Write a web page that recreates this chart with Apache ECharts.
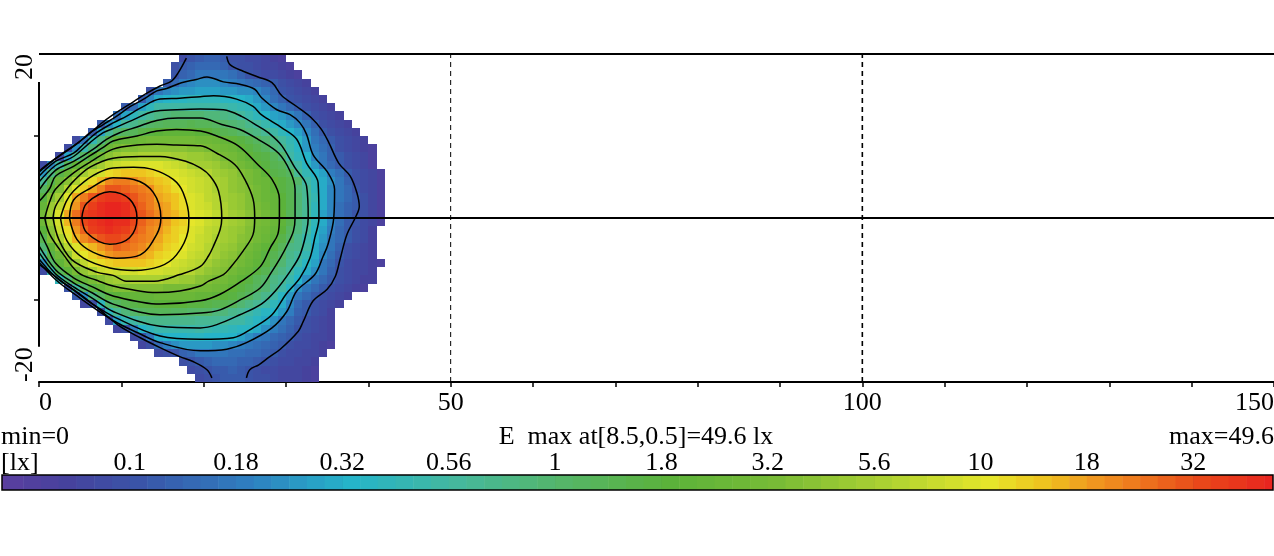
<!DOCTYPE html>
<html><head><meta charset="utf-8">
<style>html,body{margin:0;padding:0;background:#fff}#c{width:1274px;height:556px}</style>
<script src="https://cdn.jsdelivr.net/npm/echarts@6/dist/echarts.min.js"></script>
</head><body><div id="c"></div>
<script>
// Each row is the colour-shade read from one 1x1 cell. Six shades separate two legend ticks; shade 0 = 0.1 lx.
const row19=[-2,0,1,2,2,1,-1,-1,-2,-2,-3,-4,-5];
const row18=[-1,1,2,3,3,3,2,0,-1,-1,-2,-3,-3,-4,-5];
const row17=[0,2,3,5,5,5,5,4,2,0,-1,-2,-2,-3,-4,-5];
const row16=[1,3,6,7,8,8,8,7,6,5,4,3,2,1,-1,-2,-3,-4];
const row15=[-1,5,7,8,9,9,10,10,10,9,9,8,8,7,5,3,0,-1,-2,-3,-4];
const row14=[1,7,11,12,13,13,14,14,14,14,13,13,12,11,9,7,4,2,0,-1,-2,-3,-4];
const row13=[1,4,10,14,17,17,17,17,17,17,17,17,17,16,15,14,11,9,7,5,3,1,-1,-2,-3,-4];
const row12=[4,10,14,17,19,21,22,23,23,23,23,22,22,21,20,18,16,14,12,10,9,7,5,2,-1,-2,-3,-4];
const row11=[1,8,13,18,20,22,24,25,26,26,26,27,26,26,25,24,23,22,20,18,16,13,11,9,7,5,2,-1,-2,-3,-4];
const row10=[1,10,19,23,25,26,28,29,30,31,31,31,31,30,30,28,27,26,24,22,21,19,17,14,12,10,7,4,1,-1,-2,-3,-4];
const row9=[-2,5,15,21,27,31,32,33,34,35,35,35,35,35,35,34,34,33,32,31,29,27,25,23,21,18,15,13,9,5,3,1,-1,-2,-3,-4];
const row8=[-2,8,16,22,27,33,36,37,37,38,38,38,38,38,38,37,37,36,35,34,33,31,29,27,25,22,20,16,13,9,6,4,2,-1,-2,-3,-4,-5];
const row7=[-2,10,19,25,30,35,38,40,41,41,42,42,42,42,41,41,40,40,39,38,36,35,33,31,29,28,26,23,17,14,12,7,5,2,1,-1,-2,-3,-5];
const row6=[-2,7,17,26,31,35,38,41,44,45,46,47,47,47,47,46,45,44,42,41,41,40,38,37,35,33,31,29,27,26,21,17,13,9,5,3,1,-1,-2,-3,-5];
const row5=[9,21,28,33,37,41,44,46,49,50,51,51,51,50,49,47,47,46,45,44,43,41,40,39,37,36,34,31,28,27,25,19,15,12,10,6,4,1,-1,-2,-3,-5];
const row4=[19,27,34,38,42,46,49,52,55,56,56,55,53,52,51,50,48,47,46,45,44,42,41,39,38,36,34,33,31,29,27,24,17,14,11,8,5,2,-1,-2,-3,-5];
const row3=[25,31,37,43,47,50,53,56,59,59,58,57,56,55,52,51,49,48,46,45,44,42,41,39,38,37,35,33,31,29,27,22,19,14,11,7,5,3,0,-2,-3,-5];
const row2=[29,37,41,47,53,56,59,61,62,62,61,59,57,56,53,52,51,49,47,46,44,43,41,40,39,37,35,33,32,30,27,23,19,15,11,7,5,3,1,-1,-3,-5];
const row1=[32,40,44,49,54,59,61,63,64,64,63,60,58,56,54,53,51,49,47,46,45,43,42,40,39,37,36,34,32,30,27,23,19,14,11,7,4,2,1,-1,-3,-5];
const row0=[35,41,47,53,57,61,62,63,64,64,63,61,59,57,55,53,52,50,48,47,46,44,43,41,40,38,37,35,33,31,26,22,19,14,10,7,4,2,0,-1,-3,-5];
const rowM1=[34,40,46,52,56,60,62,63,64,63,63,60,58,56,55,53,51,50,48,47,45,44,42,41,40,38,36,35,33,31,27,22,19,14,11,7,4,1,0,-2,-3,-5];
const rowM2=[30,38,45,49,54,58,61,62,63,62,61,59,57,55,54,52,50,49,47,46,44,43,41,40,39,37,35,34,32,30,25,22,18,13,10,6,3,1,-1,-2,-4];
const rowM3=[27,37,42,47,52,55,57,59,60,60,59,57,56,55,53,51,50,48,47,45,44,42,41,40,38,37,35,33,31,28,24,20,16,12,9,5,3,1,-1,-2,-4];
const rowM4=[23,31,38,43,47,50,52,54,56,58,57,56,55,53,52,50,49,48,46,45,43,41,40,39,37,35,33,31,29,26,21,20,17,11,8,5,2,-1,-2,-3,-4];
const rowM5=[18,28,34,39,45,48,50,52,54,55,55,55,53,52,50,49,48,47,45,44,43,41,39,38,36,34,32,29,27,24,20,18,15,11,7,4,1,-1,-2,-3,-4];
const rowM6=[8,24,31,36,40,44,47,49,50,51,51,51,51,50,49,48,46,45,44,43,41,39,38,37,35,33,31,29,26,23,19,17,13,10,5,3,0,-2,-3,-3,-4,-5];
const rowM7=[-2,15,26,31,36,39,42,45,46,45,46,46,47,46,46,45,45,44,43,41,39,38,37,35,33,32,29,27,23,21,18,14,11,8,5,2,-1,-2,-3,-3,-4];
const rowM8=[14,22,29,33,36,38,40,41,41,42,42,42,42,41,41,40,40,38,37,36,35,33,31,29,26,24,21,19,16,12,8,5,3,1,-1,-2,-3,-4,-4];
const rowM9=[0,17,24,29,32,35,37,37,37,37,37,37,36,36,36,36,35,35,34,33,31,29,27,25,23,20,17,13,8,5,3,1,-1,-2,-3,-4,-5];
const rowM10=[1,8,21,25,29,30,31,32,32,32,33,33,33,33,33,32,32,31,30,29,27,25,22,20,17,13,9,5,3,1,-1,-2,-3,-4];
const rowM11=[-3,-1,14,23,25,27,28,29,29,30,30,30,30,29,29,28,27,27,26,23,21,19,17,14,11,7,3,1,-1,-2,-3,-4];
const rowM12=[-1,14,19,22,24,25,26,26,26,25,25,24,24,24,22,22,20,19,17,15,13,12,9,6,2,1,-1,-2,-4];
const rowM13=[-2,10,15,17,19,20,20,20,20,20,20,19,19,19,18,17,17,15,13,11,8,5,3,1,-1,-2,-3,-4];
const rowM14=[-3,-1,6,12,14,16,16,16,16,16,17,16,15,15,14,13,13,11,8,6,4,2,0,-1,-2,-3,-4];
const rowM15=[-2,0,5,11,12,12,12,13,13,12,12,12,12,10,8,6,5,3,2,1,-1,-2,-3,-3,-4];
const rowM16=[-3,-1,3,6,8,9,9,9,9,8,8,7,6,5,4,3,2,1,-1,-2,-2,-3,-4,-5];
const rowM17=[-2,-1,0,2,3,5,5,5,5,4,4,3,3,2,1,-1,-2,-2,-3,-3,-4];
const rowM18=[-1,0,1,2,3,3,3,2,2,1,0,-1,-2,-2,-3,-3,-4];
const rowM19=[-2,-1,0,1,1,2,1,0,-1,-2,-2,-3,-3,-3,-4,-5];
const rowM20=[-2,-1,0,1,1,1,0,-1,-1,-2,-3,-3,-3,-4,-5];
const rows=[row19,row18,row17,row16,row15,row14,row13,row12,row11,row10,row9,row8,row7,row6,row5,row4,row3,row2,row1,row0,
  rowM1,rowM2,rowM3,rowM4,rowM5,rowM6,rowM7,rowM8,rowM9,rowM10,rowM11,rowM12,rowM13,rowM14,rowM15,rowM16,rowM17,rowM18,rowM19,rowM20];
const rowFirstColumn=[17,16,16,15,13,12,10,9,7,6,4,3,2,0,0,0,0,0,0,0,
  0,0,0,0,0,0,0,2,3,4,5,7,8,9,11,12,14,17,18,19];

// Iso-lux contours
const line01Left=[[0,5.7],[.7,6.3],[2.6,7.7],[4.2,8.8],[5.8,10],[7.4,11.4],[9,12.6],[11.5,14.2],[12.9,15.1],[14.7,16.1],[16.1,16.7],[16.9,17.7],[17.9,19.5]];
const line01Right=[[22.8,19.7],[23.2,18.7],[24.8,17.9],[26.6,17.2],[28.3,16.5],[29.5,14.9],[31.3,13.6],[33.1,12.2],[34.3,10.8],[35.2,9.2],[36.4,6.7],[37.8,5.1],[38.6,3.1],[38.9,1.4],[38.4,0],[37.4,-2],[36.6,-4.9],[36,-7.1],[35,-8.7],[33.3,-10.1],[32.1,-12.6],[31.5,-13.8],[29.3,-16],[27.9,-17],[26.7,-17.9],[25.6,-18.5],[25.2,-19.5]];
const line01Lower=[[21,-19.5],[20.4,-18.5],[18.7,-17.5],[17.1,-16.9],[14.7,-15.8],[12.3,-14.6],[9.8,-13.2],[7.4,-11.2],[5,-9.3],[3,-7.9],[.9,-6.3],[0,-5.7]];
const line018=[[0,5.6],[1.3,6.7],[3,7.9],[4.8,9.2],[6.2,10.4],[7.8,11.4],[9.4,12.4],[11.1,13.6],[12.7,14.5],[14.3,15.5],[15.5,15.8],[17.3,16.5],[19.1,16.9],[20.4,17.2],[22.4,16.6],[24.4,16.3],[26.2,15.7],[27,14.7],[28.9,13.2],[30.5,12.6],[31.7,11.6],[32.5,10.2],[33.3,7.7],[35.1,5.5],[35.9,3.5],[35.8,0],[35.1,-3.2],[34.5,-4.7],[33.5,-6.9],[31.3,-8.9],[30.1,-11.4],[28.3,-13.4],[25.2,-15.2],[22.8,-16],[19.6,-16.2],[14.7,-15.2],[12,-14],[9,-12.5],[4.2,-9.2],[2,-7.5],[0,-5.4]];
const line032=[[0,5.1],[2,6.9],[4.2,7.9],[5.4,9],[7,10.4],[9,11.6],[10.6,12.4],[12.3,13.4],[14.7,14.5],[17.1,14.6],[19.6,14.8],[21.2,14.9],[24,14.5],[26,13.6],[27,12.6],[29.5,11],[31.3,9.6],[32.5,6.7],[33.9,4.3],[34,0],[33.5,-2.4],[32.9,-4.9],[31.7,-7.3],[30,-9.3],[28.3,-11.8],[26,-13.4],[23.6,-14.6],[19.6,-14.8],[14.7,-14.4],[9,-12],[6.5,-10.5],[4.2,-8.8],[2,-7.2],[0,-5]];
const line056=[[0,4.4],[2,6.4],[4.2,7.5],[6.2,9.2],[7.8,10.4],[9,10.9],[11.5,12],[13.9,13],[16.7,13.2],[19.6,13.3],[22.4,13.2],[24.6,12.4],[26.6,11.2],[28.1,10.2],[29.5,8.8],[31.1,6.1],[32.5,3.9],[32.7,0],[32.5,-1.6],[31.7,-4.5],[30.5,-6.5],[28.7,-8.9],[27,-10.5],[24.4,-11.8],[21.6,-13],[19.6,-13.4],[14.7,-13.2],[9,-11.4],[6.5,-9.8],[4.2,-8.4],[2,-6.8],[0,-4.2]];
const line1=[[0,3.4],[2,5.8],[4.2,6.9],[6.6,8.4],[8.2,9.6],[9.8,10.4],[11.9,11.1],[14.3,11.9],[16.9,12.2],[19.6,12.2],[22.2,11.4],[24.4,10.8],[26.6,9.6],[29.1,7.9],[30.5,5.7],[31.1,3.5],[31.1,0],[30.9,-1.6],[30.2,-3.2],[29.3,-4.9],[28.3,-6.5],[26.9,-8.5],[24.6,-9.9],[22,-11.2],[19.6,-11.6],[14.7,-11.8],[9,-10.5],[6.5,-9.15],[4.2,-7.9],[2,-6.3],[0,-3.4]];
const line18=[[0,2],[1.3,3.6],[2,5.1],[4.2,6.3],[6.2,7.6],[7.8,8.6],[9,9.4],[11.9,10],[14.3,10.6],[16.7,10.8],[19.6,10.6],[21.6,10],[24.2,8.8],[26.6,6.5],[28.3,4.7],[29.2,2.3],[29.2,0],[29,-2],[28.1,-3.6],[26.9,-5.9],[24.6,-7.7],[22,-9.3],[19.6,-10.1],[14.7,-10.5],[9,-9.5],[6.5,-8.4],[4.2,-7.3],[2,-5.5],[1,-3.5],[0,-1.4]];
const line32=[[.7,0],[1.3,2],[2,3.5],[4.2,5.5],[6.5,7],[9,8.4],[11.9,8.9],[14.3,9],[16.7,8.9],[19.6,8.8],[21.6,7.9],[23.8,6.5],[25,4.7],[26,2.3],[26.2,0],[26,-2],[24.8,-4],[23.2,-6.1],[22.4,-6.9],[20.6,-7.7],[19.6,-8.3],[17.1,-8.9],[14.3,-9.1],[11,-8.7],[9,-8.3],[7,-7.6],[4.8,-6.7],[3,-4.5],[1.3,-2],[.7,0]];
const line56=[[1.7,0],[2,1.4],[3,3],[4.2,4.5],[6.2,6.2],[9,7.3],[12.3,7.5],[14.7,7.5],[17.9,6.9],[19.6,6.1],[20.8,5.1],[21.8,3.3],[22.2,0],[22,-1.4],[21.2,-3.4],[20.6,-4.6],[19.6,-5.9],[17.1,-6.9],[14,-7.7],[10.6,-7.7],[9,-7],[7,-6.6],[4,-5.1],[2.4,-2.6],[1.7,0]];
const line10=[[2.6,0],[3.3,2],[4.2,3.3],[6.6,5.2],[9,6.1],[11.5,6.2],[13.9,5.9],[16.3,4.7],[17.5,3.1],[18.2,0],[18.1,-1.6],[16.7,-4.5],[14.7,-5.9],[11.5,-6.4],[8.6,-6.1],[5.4,-4.9],[3.4,-2.8],[2.6,0]];
const line18b=[[3.7,0],[4.2,2.2],[6.2,3.6],[9,4.9],[11.5,4.7],[13.9,3.1],[14.8,0],[14.3,-2],[12.3,-4.5],[9.4,-4.9],[6.6,-4.2],[4.6,-2.6],[3.7,0]];
const line32b=[[5.2,0],[5.8,1.8],[8.6,3.2],[11,2.3],[11.9,0],[11,-2.4],[8.6,-3.2],[5.8,-1.8],[5.2,0]];
const contours=[line01Left,line01Right,line01Lower,line018,line032,line056,line1,line18,line32,line56,line10,line18b,line32b];

// Axis and legend text
const xTickLabels=[0,50,100,150];
const yTickLabels=[-20,20];
const yTicks=[-10,10];
const legendTickShades=[0,6,12,18,24,30,36,42,48,54,60];
const legendTickLabels=['0.1','0.18','0.32','0.56','1','1.8','3.2','5.6','10','18','32'];
const colorStops=[[-8,'#5c3e9f'],[-4,'#46429d'],[0,'#3a54a8'],[6,'#2f7dbf'],[12,'#25b4c9'],[18,'#45b89d'],[24,'#55b668'],[30,'#5bb23a'],[36,'#78bb36'],[42,'#abd132'],[48,'#e6e62a'],[51,'#eec41f'],[54,'#f0961f'],[60,'#e9471a'],[65,'#e81c20']];

// Frame lines
const centerLine=[[0,0],[150,0]];
const topLine=[[0,20],[150,20]];
const leftLine=[[0,-15.7],[0,16.6]];
const dashed50=[[50,-20],[50,20]];
const dashed100=[[100,-20],[100,20]];

function hex(c){return [1,3,5].map(i=>parseInt(c.substr(i,2),16));}
function shadeColor(s){
  for(let i=0;i<colorStops.length-1;i++){
    const a=colorStops[i],b=colorStops[i+1];
    if(s>=a[0]&&s<=b[0]){
      const t=(s-a[0])/(b[0]-a[0]),ca=hex(a[1]),cb=hex(b[1]);
      return 'rgb('+ca.map((v,k)=>Math.round(v+(cb[k]-v)*t)).join(',')+')';
    }
  }
  return colorStops[colorStops.length-1][1];
}

const cells=[];
rows.forEach((r,ri)=>r.forEach((s,ci)=>cells.push([rowFirstColumn[ri]+ci,19-ri,s])));
const shades=[];
for(let s=-8;s<=64;s++)shades.push([s]);

const FONT='Liberation Serif';
const FS=26;
const chart=echarts.init(document.getElementById('c'),null,{renderer:'canvas'});
function lineSeries(data,width,dashed,z,smooth){
  return {type:'line',data,showSymbol:false,symbol:'none',silent:true,clip:false,z:z||5,animation:false,smooth:smooth||false,
    lineStyle:{color:'#000',width,type:dashed?[5,4]:'solid'}};
}
chart.setOption({
  animation:false,backgroundColor:'#fff',
  title:[
    {text:'min=0',left:1,top:424},
    {text:'E  max at[8.5,0.5]=49.6 lx',left:636,textAlign:'center',top:424},
    {text:'max=49.6',right:0,top:424},
    {text:'[lx]',left:1,top:450}
  ].map(t=>Object.assign(t,{padding:0,textStyle:{fontFamily:FONT,fontSize:FS,fontWeight:'normal',color:'#000'}})),
  grid:[
    {left:39,top:54,width:1235,height:328,outerBoundsMode:'none'},
    {left:2,top:475,width:1271,height:15,outerBoundsMode:'none'}
  ],
  xAxis:[
    {gridIndex:0,type:'value',min:0,max:150,interval:10,
     axisLine:{onZero:false,lineStyle:{color:'#000',width:2}},
     axisTick:{length:5,lineStyle:{color:'#000',width:1.5}},
     splitLine:{show:false},
     axisLabel:{customValues:xTickLabels,color:'#000',fontFamily:FONT,fontSize:FS,margin:8,alignMinLabel:'left',alignMaxLabel:'right',hideOverlap:false}},
    {gridIndex:1,type:'value',min:-7.2,max:64.5,position:'top',
     axisLine:{show:false,onZero:false},
     axisTick:{customValues:legendTickShades,inside:true,length:15,lineStyle:{color:'#000',width:1.5}},
     splitLine:{show:false},
     axisLabel:{customValues:legendTickShades,formatter:v=>legendTickLabels[legendTickShades.indexOf(v)],color:'#000',fontFamily:FONT,fontSize:FS,margin:-1,hideOverlap:false}}
  ],
  yAxis:[
    {gridIndex:0,type:'value',min:-20,max:20,interval:10,
     axisLine:{show:false,onZero:false},
     axisTick:{customValues:yTicks,length:5,lineStyle:{color:'#000',width:1.5}},
     splitLine:{show:false},
     axisLabel:{customValues:yTickLabels,rotate:90,color:'#000',fontFamily:FONT,fontSize:FS,margin:1,alignMinLabel:'left',alignMaxLabel:'right',hideOverlap:false}},
    {gridIndex:1,type:'value',min:0,max:1,show:false}
  ],
  series:[
    {type:'custom',xAxisIndex:0,yAxisIndex:0,data:cells,z:1,silent:true,animation:false,progressive:0,clip:true,
     encode:{x:0,y:1},
     renderItem:(p,api)=>{
       const a=api.coord([api.value(0),api.value(1)+1]),b=api.coord([api.value(0)+1,api.value(1)]);
       const x=Math.round(a[0]),y=Math.round(a[1]);
       return {type:'rect',shape:{x,y,width:Math.round(b[0])-x,height:Math.round(b[1])-y},style:{fill:shadeColor(api.value(2))}};
     }},
    ...contours.map(c=>lineSeries(c,1.5,false,3,0.35)),
    lineSeries(centerLine,2),lineSeries(topLine,2),lineSeries(leftLine,2),
    lineSeries(dashed50,1,true),lineSeries(dashed100,1.6,true),
    {type:'custom',xAxisIndex:1,yAxisIndex:1,data:shades,z:1,silent:true,animation:false,progressive:0,clip:true,
     encode:{x:0},
     renderItem:(p,api)=>{
       const s=api.value(0),a=api.coord([s,1]),b=api.coord([s+1,0]);
       return {type:'rect',shape:{x:a[0],y:a[1],width:b[0]-a[0]+.5,height:b[1]-a[1]},style:{fill:shadeColor(s)}};
     }},
    {type:'custom',xAxisIndex:1,yAxisIndex:1,data:[[-7.2,64.5]],z:4,silent:true,animation:false,clip:false,
     encode:{x:[0,1]},
     renderItem:(p,api)=>{
       const a=api.coord([api.value(0),1]),b=api.coord([api.value(1),0]);
       return {type:'rect',shape:{x:a[0],y:a[1],width:b[0]-a[0],height:b[1]-a[1]},style:{fill:'none',stroke:'#000',lineWidth:1.5}};
     }}
  ]
});
</script></body></html>
